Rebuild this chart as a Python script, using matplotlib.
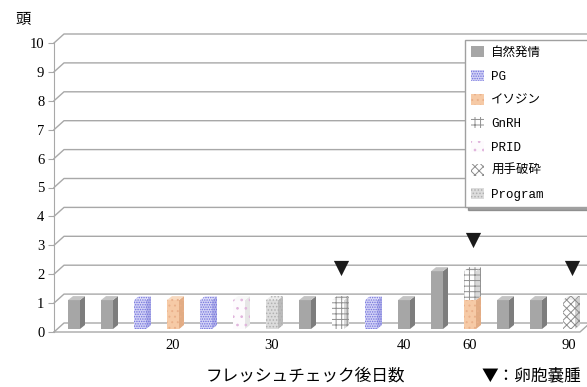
import numpy as np
import matplotlib.pyplot as plt
from matplotlib.patches import Patch, Polygon

# ---- datos (16 categorías, días tras la fresh check) ----
dias = ['', '', '', '20', '', '', '30', '', '', '', '40', '', '60', '', '', '90']

series = ['自然発情', 'PG', 'イソジン', 'GnRH', 'PRID', '用手破砕', 'Program']
shizen  = [1, 1, 0, 0, 0, 0, 0, 1, 0, 0, 1, 2, 0, 1, 1, 0]
pg      = [0, 0, 1, 0, 1, 0, 0, 0, 0, 1, 0, 0, 0, 0, 0, 0]
isodine = [0, 0, 0, 1, 0, 0, 0, 0, 0, 0, 0, 0, 1, 0, 0, 0]
gnrh    = [0, 0, 0, 0, 0, 0, 0, 0, 1, 0, 0, 0, 1, 0, 0, 0]
prid    = [0, 0, 0, 0, 0, 1, 0, 0, 0, 0, 0, 0, 0, 0, 0, 0]
yoshu   = [0, 0, 0, 0, 0, 0, 0, 0, 0, 0, 0, 0, 0, 0, 0, 1]
program = [0, 0, 0, 0, 0, 0, 1, 0, 0, 0, 0, 0, 0, 0, 0, 0]
# ▼ : 卵胞嚢腫
cyst    = [0, 0, 0, 0, 0, 0, 0, 0, 1, 0, 0, 0, 1, 0, 0, 1]

valores = [shizen, pg, isodine, gnrh, prid, yoshu, program]

# estilos: (frente, lateral, tapa, hatch, color hatch)
estilos = [
    ('#a6a6a6', '#7d7d7d', '#c4c4c4', None, '#a6a6a6'),
    ('#d4d4f6', '#b4b4ea', '#e4e4fa', '.......', '#7070dc'),
    ('#f6caa6', '#e2ac84', '#f8dac0', '...', '#eab08a'),
    ('#ffffff', '#d8d8d8', '#f4f4f4', '+++', '#909090'),
    ('#fdfbfd', '#e6e6e6', '#f8f8f8', '..', '#e0b4dc'),
    ('#ffffff', '#d0d0d0', '#f0f0f0', 'xxxx', '#8c8c8c'),
    ('#dcdcdc', '#bcbcbc', '#ececec', '.....', '#b0b0b0'),
]

plt.rcParams['hatch.linewidth'] = 0.7
jp = ['Noto Sans CJK JP', 'DejaVu Sans']

W, H = 587, 387
fig = plt.figure(figsize=(W / 100, H / 100), dpi=100)

# geometría en píxeles -> ejes
x0px, y0px = 54, 332
xstep, ystep = 33.0, 28.9
xmin = (x0px - 74) / xstep
xmax = (587 - 74) / xstep
ymax = 10.4
ax = fig.add_axes([x0px / W, (H - y0px) / H, (587 - x0px) / W, ymax * ystep / H])
ax.set_xlim(xmin, xmax)
ax.set_ylim(0, ymax)

# profundidad del "3D"
dx, dy = 10 / xstep, 9 / ystep
xr_front = (580 - 74) / xstep
grid_c = '#a8a8a8'
for v in range(11):
    ax.plot([xmin, xmin + dx, xmax], [v, v + dy, v + dy], color=grid_c, lw=1, zorder=1,
            clip_on=False)
ax.plot([xmin, xr_front, xr_front + dx], [0, 0, dy], color=grid_c, lw=1, zorder=1,
        clip_on=False)

# barras 3D
w = 12 / xstep
sx, sy = 5 / xstep, 4 / ystep
b0 = 3 / ystep
x = np.arange(len(dias))
base = np.full(len(dias), b0)
for vals, (fc, sc, tc, hatch, hc) in zip(valores, estilos):
    vals = np.array(vals, dtype=float)
    for i in np.nonzero(vals)[0]:
        bot, top = base[i], base[i] + vals[i]
        ax.bar(x[i], vals[i], width=w, bottom=bot, color=fc, hatch=hatch,
               edgecolor=hc, linewidth=0, zorder=3)
        xl, xr = x[i] - w / 2, x[i] + w / 2
        ax.add_patch(Polygon([(xr, bot), (xr + sx, bot + sy), (xr + sx, top + sy), (xr, top)],
                             closed=True, facecolor=sc, hatch=hatch, edgecolor=hc,
                             linewidth=0, zorder=3))
        ax.add_patch(Polygon([(xl, top), (xr, top), (xr + sx, top + sy), (xl + sx, top + sy)],
                             closed=True, facecolor=tc, hatch=hatch, edgecolor=hc,
                             linewidth=0, zorder=3))
    base = base + vals

# ▼卵胞嚢腫
total = base - b0
idx = np.nonzero(cyst)[0]
ax.scatter(x[idx] + sx / 2, total[idx] + 1.2, marker='v', s=120, color='#1a1a1a',
           zorder=4, linewidths=0)

# ejes
for s in ['top', 'right', 'bottom']:
    ax.spines[s].set_visible(False)
ax.spines['left'].set_color(grid_c)
ax.spines['left'].set_bounds(0, 10)
ax.set_yticks(range(11))
ax.tick_params(axis='y', length=4, color=grid_c, pad=3, labelsize=10.5)
ax.set_xticks(x)
ax.set_xticklabels(dias)
ax.tick_params(axis='x', length=0, pad=5, labelsize=10.5)
for lab in ax.get_xticklabels() + ax.get_yticklabels():
    lab.set_fontfamily('Liberation Serif')

fig.text(23 / W, 1 - 20 / H, '頭', fontsize=11, family=jp, ha='center', va='center')
fig.text(305 / W, 1 - 376 / H, 'フレッシュチェック後日数', fontsize=12, family=jp,
         ha='center', va='center')
fig.text(531 / W, 1 - 376 / H, '▼：卵胞嚢腫', fontsize=12, family=jp,
         ha='center', va='center')

# leyenda
handles = [Patch(facecolor=e[0], hatch=e[3], edgecolor=e[4], linewidth=0) for e in estilos]
leg = fig.legend(handles, series, loc='upper left',
                 bbox_to_anchor=(465 / W, 1 - 209 / H, 130 / W, 169 / H),
                 mode='expand', borderaxespad=0, fancybox=False, shadow=True,
                 framealpha=1, edgecolor='#a0a0a0', handlelength=1.0, handleheight=1.0,
                 handletextpad=0.6, labelspacing=0.86, borderpad=0.5,
                 prop=dict(family=['Liberation Mono', 'Noto Sans CJK JP'], size=9))
leg.set_zorder(5)

fig.savefig('out.png', dpi=100)
